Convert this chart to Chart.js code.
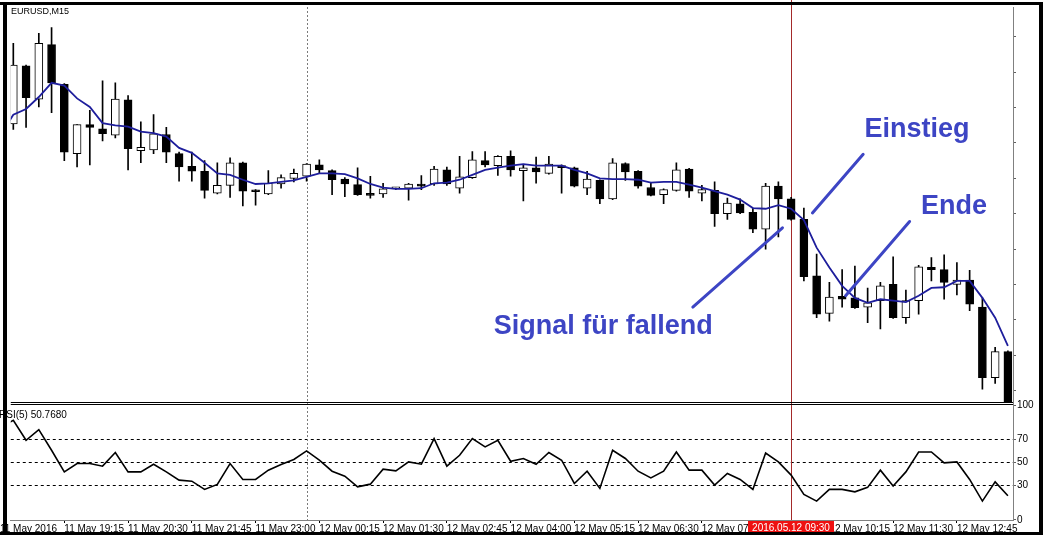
<!DOCTYPE html>
<html>
<head>
<meta charset="utf-8">
<title>EURUSD,M15</title>
<script src="https://cdn.jsdelivr.net/npm/chart.js@4.4.0/dist/chart.umd.min.js"></script>
<style>
  html, body { margin: 0; padding: 0; background: #fff; }
  #chart { display: block; }
</style>
</head>
<body>
<canvas id="chart" width="1046" height="535"></canvas>
<script>
const FONT = '"Liberation Sans", Arial, sans-serif'
const NOTE_COLOR = '#3d45c4'

// M15 candles, index 0 = 11 May 18:15
const opens = [
  1.14477, 1.14559, 1.14512, 1.14589, 1.14533, 1.14435, 1.14476, 1.14470, 1.14461, 1.14511,
  1.14439, 1.14440, 1.14462, 1.14435, 1.14417, 1.14410, 1.14379, 1.14390, 1.14422, 1.14383,
  1.14378, 1.14392, 1.14400, 1.14403, 1.14419, 1.14411, 1.14399, 1.14391, 1.14378, 1.14378,
  1.14385, 1.14386, 1.14392, 1.14392, 1.14412, 1.14386, 1.14401, 1.14425, 1.14418, 1.14431,
  1.14411, 1.14415, 1.14407, 1.14418, 1.14415, 1.14386, 1.14397, 1.14371, 1.14421, 1.14410,
  1.14387, 1.14377, 1.14383, 1.14413, 1.14379, 1.14383, 1.14350, 1.14364, 1.14352, 1.14328,
  1.14389, 1.14371, 1.14342, 1.14262, 1.14209, 1.14233, 1.14231, 1.14218, 1.14227, 1.14250,
  1.14203, 1.14227, 1.14274, 1.14271, 1.14250, 1.14256, 1.14218, 1.14118, 1.14155]
const highs = [
  1.14591, 1.14560, 1.14605, 1.14613, 1.14534, 1.14476, 1.14496, 1.14538, 1.14535, 1.14517,
  1.14480, 1.14490, 1.14472, 1.14437, 1.14437, 1.14425, 1.14422, 1.14429, 1.14423, 1.14384,
  1.14411, 1.14405, 1.14413, 1.14421, 1.14426, 1.14412, 1.14401, 1.14415, 1.14403, 1.14393,
  1.14387, 1.14393, 1.14404, 1.14417, 1.14416, 1.14431, 1.14438, 1.14438, 1.14432, 1.14439,
  1.14419, 1.14430, 1.14431, 1.14419, 1.14416, 1.14410, 1.14398, 1.14428, 1.14422, 1.14411,
  1.14393, 1.14385, 1.14422, 1.14414, 1.14390, 1.14395, 1.14372, 1.14371, 1.14358, 1.14393,
  1.14395, 1.14373, 1.14358, 1.14293, 1.14253, 1.14271, 1.14276, 1.14245, 1.14253, 1.14289,
  1.14242, 1.14277, 1.14288, 1.14292, 1.14281, 1.14270, 1.14231, 1.14161, 1.14156]
const lows = [
  1.14469, 1.14472, 1.14501, 1.14493, 1.14425, 1.14416, 1.14419, 1.14453, 1.14457, 1.14412,
  1.14422, 1.14435, 1.14422, 1.14396, 1.14396, 1.14372, 1.14378, 1.14373, 1.14361, 1.14362,
  1.14377, 1.14386, 1.14395, 1.14396, 1.14407, 1.14377, 1.14374, 1.14376, 1.14372, 1.14373,
  1.14384, 1.14369, 1.14384, 1.14390, 1.14390, 1.14379, 1.14400, 1.14416, 1.14404, 1.14403,
  1.14368, 1.14393, 1.14406, 1.14379, 1.14388, 1.14377, 1.14364, 1.14370, 1.14397, 1.14386,
  1.14375, 1.14364, 1.14382, 1.14373, 1.14368, 1.14332, 1.14342, 1.14350, 1.14323, 1.14300,
  1.14317, 1.14341, 1.14255, 1.14203, 1.14198, 1.14218, 1.14216, 1.14196, 1.14187, 1.14202,
  1.14195, 1.14208, 1.14255, 1.14229, 1.14235, 1.14213, 1.14102, 1.14110, 1.14083]
const closes = [
  1.14560, 1.14514, 1.14591, 1.14535, 1.14437, 1.14476, 1.14472, 1.14463, 1.14512, 1.14442,
  1.14444, 1.14463, 1.14437, 1.14416, 1.14410, 1.14383, 1.14390, 1.14422, 1.14382, 1.14381,
  1.14393, 1.14401, 1.14407, 1.14420, 1.14412, 1.14398, 1.14392, 1.14377, 1.14376, 1.14385,
  1.14385, 1.14392, 1.14389, 1.14413, 1.14392, 1.14402, 1.14426, 1.14419, 1.14431, 1.14412,
  1.14415, 1.14409, 1.14420, 1.14415, 1.14389, 1.14399, 1.14371, 1.14422, 1.14409, 1.14389,
  1.14376, 1.14384, 1.14412, 1.14382, 1.14384, 1.14350, 1.14365, 1.14351, 1.14328, 1.14389,
  1.14371, 1.14342, 1.14261, 1.14208, 1.14232, 1.14229, 1.14217, 1.14224, 1.14248, 1.14203,
  1.14227, 1.14275, 1.14271, 1.14253, 1.14256, 1.14222, 1.14118, 1.14155, 1.14084]

// moving average and RSI(5), first value is the bar just left of the window
const maValues = [
  1.14461, 1.14490, 1.14498, 1.14515, 1.14535, 1.14531, 1.14513, 1.14501, 1.14478, 1.14475,
  1.14473, 1.14466, 1.14464, 1.14459, 1.14443, 1.14436, 1.14422, 1.14407, 1.14405, 1.14398,
  1.14392, 1.14393, 1.14395, 1.14397, 1.14402, 1.14407, 1.14407, 1.14406, 1.14400, 1.14392,
  1.14387, 1.14385, 1.14385, 1.14386, 1.14393, 1.14394, 1.14398, 1.14405, 1.14412, 1.14415,
  1.14418, 1.14420, 1.14418, 1.14418, 1.14418, 1.14412, 1.14407, 1.14400, 1.14399, 1.14399,
  1.14398, 1.14394, 1.14395, 1.14395, 1.14391, 1.14387, 1.14382, 1.14377, 1.14370, 1.14358,
  1.14357, 1.14362, 1.14357, 1.14341, 1.14302, 1.14274, 1.14248, 1.14231, 1.14224, 1.14229,
  1.14227, 1.14225, 1.14234, 1.14245, 1.14246, 1.14255, 1.14255, 1.14231, 1.14203, 1.14163]
const rsiValues = [
  80.8, 86.8, 69.4, 78.7, 60.7, 41.8, 49.1, 49.1, 46.8, 58.7,
  41.8, 41.8, 48.5, 41.8, 34.6, 33.7, 26.5, 30.9, 49.1, 35.2,
  35.2, 43.3, 48.3, 52.6, 60.1, 52.0, 42.4, 38.1, 28.8, 31.1,
  44.2, 42.7, 50.5, 48.5, 70.9, 46.8, 56.3, 70.9, 63.6, 69.4,
  51.1, 53.5, 48.5, 58.7, 52.0, 31.7, 42.4, 27.4, 60.7, 53.5,
  42.4, 36.6, 42.4, 59.2, 43.3, 43.3, 30.3, 40.4, 35.2, 26.5,
  58.3, 50.5, 39.0, 22.2, 16.3, 26.5, 26.5, 24.4, 28.3, 43.3,
  29.4, 41.8, 59.2, 59.2, 49.7, 50.5, 35.2, 16.3, 33.1, 21.0]

// time axis
const tickIdx = [-1.05, 4, 9, 14, 19, 24, 29, 34, 39, 44, 49, 54, 59, 64, 69, 74]
const tickText = ['11 May 2016', '11 May 19:15', '11 May 20:30', '11 May 21:45', '11 May 23:00',
  '12 May 00:15', '12 May 01:30', '12 May 02:45', '12 May 04:00', '12 May 05:15', '12 May 06:30',
  '12 May 07:45', '12 May 09:00', '12 May 10:15', '12 May 11:30', '12 May 12:45']
const rsiLevels = [0, 30, 50, 70, 100]
const dayBreakIdx = 23
const crossIdx = 61
const crossText = '2016.05.12 09:30'

// hand drawn notes
const noteText = ['Einstieg', 'Ende', 'Signal für fallend']
const noteX = [66.75, 71.18, 37.67]
const noteY = [1.14458, 1.14349, 1.14180]
const arrowX = [[62.67, 66.65], [65.27, 70.29], [53.29, 60.32]]
const arrowY = [[1.14351, 1.14434], [1.14234, 1.14339], [1.14218, 1.14330]]


const bodyData = opens.map((o, i) => ({x: i, y: [o, closes[i]]}))
const wickData = lows.map((l, i) => ({x: i, y: [l, highs[i]]}))
const bodyColors = opens.map((o, i) => closes[i] >= o ? '#ffffff' : '#000000')
const maData = maValues.map((v, i) => ({x: i - 1, y: v}))
const rsiData = rsiValues.map((v, i) => ({x: i - 1, y: v}))

const arrowSets = arrowX.map((xs, k) => ({
  type: 'line',
  data: [{x: xs[0], y: arrowY[k][0]}, {x: xs[1], y: arrowY[k][1]}],
  yAxisID: 'y',
  borderColor: NOTE_COLOR,
  borderWidth: 3,
  borderCapStyle: 'round',
  pointRadius: 0
}))


const decorations = {
  id: 'decorations',
  beforeDatasetsDraw(chart) {
    const {ctx, chartArea, scales} = chart
    ctx.save()
    // day separator
    const sx = Math.round(scales.x.getPixelForValue(dayBreakIdx)) + 0.5
    ctx.strokeStyle = '#7a7a7a'
    ctx.lineWidth = 1
    ctx.setLineDash([2, 2])
    ctx.beginPath()
    ctx.moveTo(sx, chartArea.top)
    ctx.lineTo(sx, chartArea.bottom)
    ctx.stroke()
    // crosshair
    const cx = Math.round(scales.x.getPixelForValue(crossIdx)) + 0.5
    ctx.setLineDash([])
    ctx.strokeStyle = '#a32a2a'
    ctx.beginPath()
    ctx.moveTo(cx, 0)
    ctx.lineTo(cx, chartArea.bottom)
    ctx.stroke()
    ctx.restore()
  },
  afterDraw(chart) {
    const {ctx, chartArea, scales, width, height} = chart
    ctx.save()

    // crosshair time label
    const cx = Math.round(scales.x.getPixelForValue(crossIdx))
    ctx.fillStyle = '#ee1111'
    ctx.fillRect(cx - 43, chartArea.bottom + 1, 86, 14)
    ctx.fillStyle = '#ffffff'
    ctx.font = '10px ' + FONT
    ctx.textAlign = 'center'
    ctx.textBaseline = 'middle'
    ctx.fillText(crossText, cx, chartArea.bottom + 8.5)

    // panel split
    const py = Math.round(scales.y.bottom)
    ctx.fillStyle = '#000'
    ctx.fillRect(chartArea.left, py - 2, chartArea.right - chartArea.left, 1)
    ctx.fillRect(chartArea.left, py, chartArea.right - chartArea.left, 1)

    // window frame
    ctx.fillRect(0, 2, width - 3, 3)
    ctx.fillRect(3, 2, 4, height - 2)
    ctx.fillRect(width - 7, 2, 4, height - 2)
    ctx.fillRect(0, height - 3, width - 3, 3)

    // labels
    ctx.textAlign = 'left'
    ctx.textBaseline = 'alphabetic'
    ctx.font = '9px ' + FONT
    ctx.fillText('EURUSD,M15', 11, 14)
    ctx.font = '10px ' + FONT
    ctx.fillText('RSI(5) 50.7680', -1, py + 14)

    // notes
    ctx.fillStyle = NOTE_COLOR
    ctx.font = 'bold 27px ' + FONT
    noteText.forEach((t, i) => {
      ctx.fillText(t, scales.x.getPixelForValue(noteX[i]), scales.y.getPixelForValue(noteY[i]))
    })
    ctx.restore()
  }
}


new Chart(document.getElementById('chart'), {
  type: 'bar',
  data: {
    datasets: [
      ...arrowSets,
      {
        type: 'line',
        data: maData,
        yAxisID: 'y',
        borderColor: '#1e1e9c',
        borderWidth: 1.8,
        pointRadius: 0,
        tension: 0
      },
      {
        type: 'line',
        data: rsiData,
        yAxisID: 'yR',
        borderColor: '#000',
        borderWidth: 1.6,
        pointRadius: 0,
        tension: 0
      },
      {
        data: bodyData,
        yAxisID: 'y',
        backgroundColor: bodyColors,
        borderColor: '#000',
        borderWidth: 1,
        borderSkipped: false,
        grouped: false,
        barThickness: 8,
        maxBarThickness: 8,
        minBarLength: 2
      },
      {
        data: wickData,
        yAxisID: 'y',
        backgroundColor: '#000',
        borderWidth: 0,
        grouped: false,
        barThickness: 1,
        maxBarThickness: 1
      }
    ]
  },
  options: {
    responsive: false,
    animation: false,
    devicePixelRatio: 1,
    events: [],
    layout: {padding: {left: 7, top: 5, right: 6, bottom: 0}},
    plugins: {legend: {display: false}, tooltip: {enabled: false}},
    scales: {
      x: {
        type: 'linear',
        min: -0.2,
        max: 78.4,
        offset: false,
        grid: {offset: false, drawOnChartArea: false, tickLength: 3, tickColor: '#000'},
        border: {color: '#808080'},
        ticks: {
          autoSkip: false,
          maxRotation: 0,
          minRotation: 0,
          align: 'start',
          padding: 0,
          color: '#000',
          font: {family: FONT, size: 10},
          callback: (v, i) => tickText[i]
        },
        afterBuildTicks: (s) => { s.ticks = tickIdx.map(v => ({value: v})) },
        afterFit: (s) => { s.height = 15 }
      },
      y: {
        type: 'linear',
        position: 'right',
        stack: 'panes',
        stackWeight: 398.4,
        min: 1.1408113,
        max: 1.1464225,
        grid: {drawOnChartArea: false, tickLength: 3, tickColor: '#606060'},
        border: {color: '#808080'},
        ticks: {display: false, autoSkip: false, stepSize: 0.0005, includeBounds: false},
        afterFit: (s) => { s.width = 27 }
      },
      yR: {
        type: 'linear',
        position: 'right',
        stack: 'panes',
        stackWeight: 116.6,
        min: -0.2,
        max: 101.2,
        grid: {
          color: (c) => (c.tick && [30, 50, 70].includes(c.tick.value)) ? '#000' : 'rgba(0,0,0,0)',
          tickColor: '#606060',
          tickLength: 3
        },
        border: {color: '#808080', dash: [3, 3]},
        ticks: {autoSkip: false, padding: 1, color: '#000', font: {family: FONT, size: 10}, callback: (v) => String(v)},
        afterBuildTicks: (s) => { s.ticks = rsiLevels.map(v => ({value: v})) },
        afterFit: (s) => { s.width = 27 }
      }
    }
  },
  plugins: [decorations]
})
</script>
</body>
</html>
